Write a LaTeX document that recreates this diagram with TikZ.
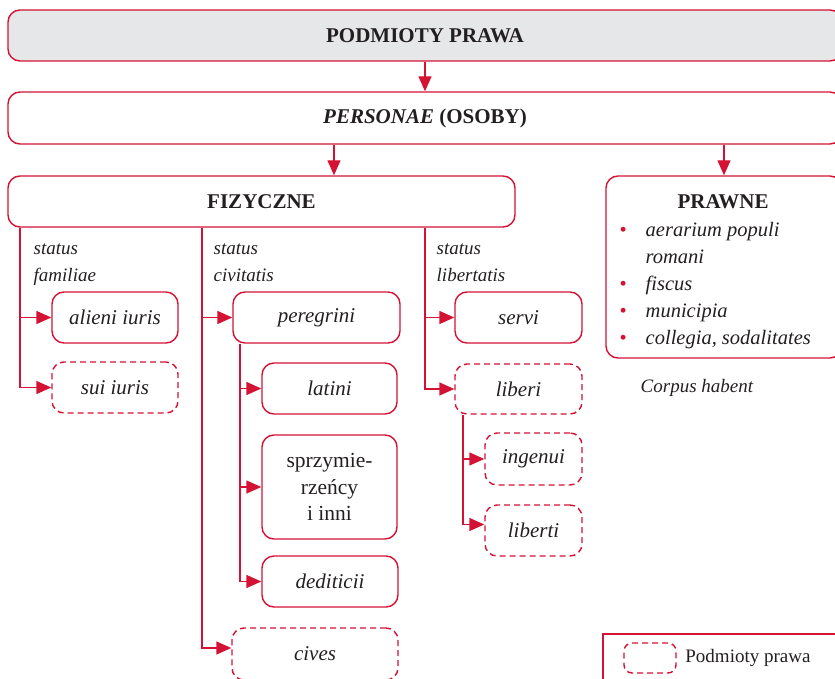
\documentclass[tikz,border=0pt]{standalone}
\usepackage{fontspec}
\setmainfont{Liberation Serif}
\usepackage{xcolor}
\usepackage{tikz}
\usetikzlibrary{arrows.meta}
\usetikzlibrary{calc}
\usetikzlibrary{positioning}

\definecolor{prred}{RGB}{212,18,52}
\definecolor{prgray}{RGB}{230,231,232}
\definecolor{prtext}{RGB}{35,31,32}

\begin{document}
\begin{tikzpicture}[>={Triangle[length=15pt,width=13pt]},x=1pt,y=-1pt,
                    line width=1.4pt]
 \tikzstyle{box}=[draw=prred, rounded corners=12pt, text=prtext, align=center,
                  font=\fontsize{21}{27}\selectfont\itshape, inner sep=2pt]
 \tikzstyle{ghost}=[box, dash pattern=on 6pt off 4pt]
 \tikzstyle{head}=[box, font=\fontsize{21}{24}\selectfont\bfseries]
 \tikzstyle{lbl}=[text=prtext, align=left, anchor=north west, inner sep=0pt,
                  font=\fontsize{19}{27}\selectfont\itshape]
 \tikzstyle{arr}=[->, draw=prred]
 \useasboundingbox (0,0) rectangle (835,679);

 % top levels
 \node[head, fill=prgray, minimum width=834pt, minimum height=51pt] (podmioty) at (425,35.5) {PODMIOTY PRAWA};
 \node[head, minimum width=834pt, minimum height=52pt] (personae) at (425,118) {\textit{PERSONAE} (OSOBY)};
 \node[head, minimum width=507pt, minimum height=51pt] (fizyczne) at (261.5,201.5) {FIZYCZNE};
 \node[box, minimum width=236pt, minimum height=182pt] (prawne) at (724,267) {};
 \node[text=prtext, font=\fontsize{21}{24}\selectfont\bfseries] (prawnetitle) at (723,202) {PRAWNE};
 \node[lbl, font=\fontsize{20.5}{27}\selectfont\itshape] (prawnelist) at (619,222)
   {\makebox[26pt][l]{\upshape\textcolor{prred}{\textbullet}}aerarium populi\\
    \makebox[26pt][l]{}romani\\
    \makebox[26pt][l]{\upshape\textcolor{prred}{\textbullet}}fiscus\\
    \makebox[26pt][l]{\upshape\textcolor{prred}{\textbullet}}municipia\\
    \makebox[26pt][l]{\upshape\textcolor{prred}{\textbullet}}collegia, sodalitates};
 \node[lbl, anchor=base west] (corpus) at (640,392) {Corpus habent};

 % status labels
 \node[lbl] (famlabel) at (33,243) {status\\familiae};
 \node[lbl] (civlabel) at (213,243) {status\\civitatis};
 \node[lbl] (liblabel) at (436,243) {status\\libertatis};

 % status familiae
 \node[box, minimum width=126pt, minimum height=51pt] (alieni) at (115,317.5) {alieni iuris};
 \node[ghost, minimum width=126pt, minimum height=51pt] (sui) at (115,387.5) {sui iuris};

 % status civitatis
 \node[box, minimum width=167pt, minimum height=51pt] (peregrini) at (316.5,317.5) {peregrini};
 \node[box, minimum width=135pt, minimum height=51pt] (latini) at (329.5,388.5) {latini};
 \node[box, minimum width=135pt, minimum height=104pt, font=\fontsize{21.5}{26.5}\selectfont\upshape] (sprzym) at (329.5,487) {sprzymie-\\rzeńcy\\i inni};
 \node[box, minimum width=136pt, minimum height=51pt] (dediticii) at (330,581.5) {dediticii};
 \node[ghost, minimum width=166pt, minimum height=52pt] (cives) at (315,654) {cives};

 % status libertatis
 \node[box, minimum width=127pt, minimum height=51pt] (servi) at (518.5,317.5) {servi};
 \node[ghost, minimum width=127pt, minimum height=50pt] (liberi) at (518.5,389) {liberi};
 \node[ghost, minimum width=97pt, minimum height=52pt] (ingenui) at (533.5,459) {ingenui};
 \node[ghost, minimum width=97pt, minimum height=51pt] (liberti) at (533.5,530.5) {liberti};

 % legend
 \draw[draw=prred] (603,690) -- (603,634) -- (845,634);
 \node[ghost, minimum width=52pt, minimum height=30pt, rounded corners=8pt] (legendbox) at (650,658) {};
 \node[text=prtext, inner sep=0pt, right=8pt of legendbox, font=\fontsize{19}{22}\selectfont] (legendtext) {Podmioty prawa};

 % connectors
 \coordinate (osx) at (334,0);
 \coordinate (famx) at (20,0);
 \coordinate (civx) at (202,0);
 \coordinate (libx) at (425,0);
 \coordinate (perx) at (240,0);
 \coordinate (lbrx) at (463,0);
 \draw[arr] (podmioty) -- (personae);
 \draw[arr] (personae.south -| osx) -- (fizyczne.north -| osx);
 \draw[arr] (personae.south -| prawne.north) -- (prawne.north);
 \draw[arr] (fizyczne.south -| famx) |- (sui.west);
 \draw[arr] (famx |- alieni.west) -- (alieni.west);
 \draw[arr] (fizyczne.south -| civx) |- ([yshift=6pt]cives.west);
 \draw[arr] (civx |- peregrini.west) -- (peregrini.west);
 \draw[arr] (peregrini.south -| perx) |- (dediticii.west);
 \draw[arr] (perx |- latini.west) -- (latini.west);
 \draw[arr] (perx |- sprzym.west) -- (sprzym.west);
 \draw[arr] (fizyczne.south -| libx) |- (liberi.west);
 \draw[arr] (libx |- servi.west) -- (servi.west);
 \draw[arr] (liberi.south -| lbrx) |- ([yshift=6pt]liberti.west);
 \draw[arr] (lbrx |- ingenui.west) -- (ingenui.west);
\end{tikzpicture}
\end{document}
